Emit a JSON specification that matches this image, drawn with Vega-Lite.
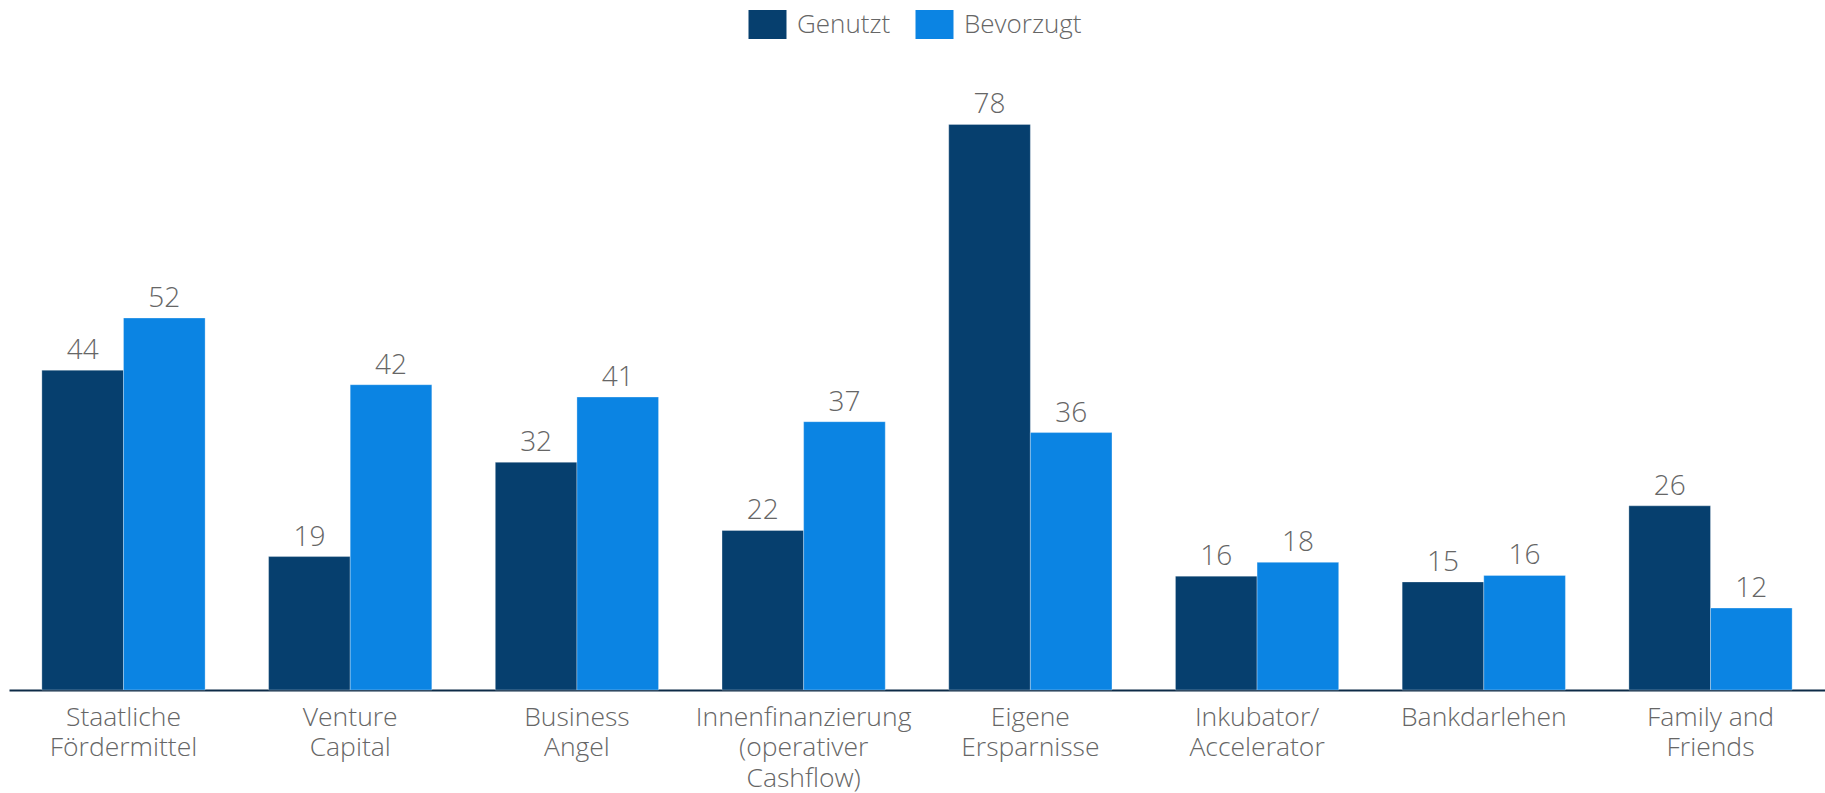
{
  "$schema": "https://vega.github.io/schema/vega-lite/v6.json",
  "width": 1816,
  "height": 620,
  "autosize": "none",
  "padding": {"left": 9, "top": 70, "right": 0, "bottom": 103},
  "background": "white",
  "config": {
    "view": {"stroke": null},
    "font": "Open Sans"
  },
  "data": {
    "values": [
      {"cat": "Staatliche|Fördermittel", "series": "Genutzt", "value": 44.1, "label": 44},
      {"cat": "Staatliche|Fördermittel", "series": "Bevorzugt", "value": 51.3, "label": 52},
      {"cat": "Venture|Capital", "series": "Genutzt", "value": 18.4, "label": 19},
      {"cat": "Venture|Capital", "series": "Bevorzugt", "value": 42.1, "label": 42},
      {"cat": "Business|Angel", "series": "Genutzt", "value": 31.4, "label": 32},
      {"cat": "Business|Angel", "series": "Bevorzugt", "value": 40.4, "label": 41},
      {"cat": "Innenfinanzierung|(operativer|Cashflow)", "series": "Genutzt", "value": 22.0, "label": 22},
      {"cat": "Innenfinanzierung|(operativer|Cashflow)", "series": "Bevorzugt", "value": 37.0, "label": 37},
      {"cat": "Eigene|Ersparnisse", "series": "Genutzt", "value": 78.0, "label": 78},
      {"cat": "Eigene|Ersparnisse", "series": "Bevorzugt", "value": 35.5, "label": 36},
      {"cat": "Inkubator/|Accelerator", "series": "Genutzt", "value": 15.7, "label": 16},
      {"cat": "Inkubator/|Accelerator", "series": "Bevorzugt", "value": 17.6, "label": 18},
      {"cat": "Bankdarlehen", "series": "Genutzt", "value": 14.9, "label": 15},
      {"cat": "Bankdarlehen", "series": "Bevorzugt", "value": 15.8, "label": 16},
      {"cat": "Family and|Friends", "series": "Genutzt", "value": 25.4, "label": 26},
      {"cat": "Family and|Friends", "series": "Bevorzugt", "value": 11.3, "label": 12}
    ]
  },
  "encoding": {
    "x": {
      "field": "cat",
      "type": "nominal",
      "sort": null,
      "scale": {"paddingInner": 0.28, "paddingOuter": 0.145},
      "axis": {
        "title": null,
        "labelAngle": 0,
        "labelExpr": "split(datum.label, '|')",
        "labelFont": "Open Sans",
        "labelFontWeight": 300,
        "labelFontSize": 26.5,
        "labelColor": "#666666",
        "labelLineHeight": 30.5,
        "labelPadding": 14,
        "labelBaseline": "top",
        "ticks": false,
        "domainColor": "#0d2b47",
        "domainWidth": 2,
        "labelLimit": 300
      }
    },
    "xOffset": {"field": "series", "type": "nominal", "sort": ["Genutzt", "Bevorzugt"], "scale": {"paddingInner": 0, "paddingOuter": 0}},
    "y": {
      "field": "value",
      "type": "quantitative",
      "scale": {"domain": [0, 85.5], "nice": false},
      "axis": null
    }
  },
  "layer": [
    {
      "mark": {"type": "bar", "stroke": "#ffffff", "strokeWidth": 0.5, "strokeOpacity": 0.6},
      "encoding": {
        "color": {
          "field": "series",
          "type": "nominal",
          "sort": ["Genutzt", "Bevorzugt"],
          "scale": {"domain": ["Genutzt", "Bevorzugt"], "range": ["#063f6e", "#0b84e3"]},
          "legend": {
            "title": null,
            "orient": "none",
            "legendX": 744,
            "legendY": -60,
            "direction": "horizontal",
            "symbolType": "M-1.31,-1H1.31V1H-1.31Z",
            "symbolSize": 841,
            "symbolStrokeWidth": 0,
            "labelFont": "Open Sans",
            "labelFontWeight": 300,
            "labelFontSize": 26,
            "labelColor": "#666666",
            "columnPadding": 24,
            "labelOffset": 15
          }
        }
      }
    },
    {
      "mark": {"type": "text", "baseline": "alphabetic", "dy": -11, "font": "Open Sans", "fontWeight": 300, "fontSize": 28, "color": "#666666"},
      "encoding": {
        "text": {"field": "label", "type": "quantitative"}
      }
    }
  ]
}
